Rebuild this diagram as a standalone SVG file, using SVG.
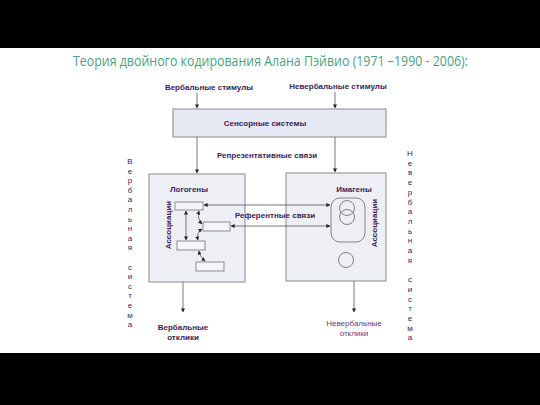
<svg xmlns="http://www.w3.org/2000/svg" width="540" height="405" viewBox="0 0 540 405">
<defs>
<marker id="ah" viewBox="0 0 10 10" refX="9" refY="5" markerWidth="4" markerHeight="4" orient="auto-start-reverse" markerUnits="userSpaceOnUse">
<path d="M0,0 L10,5 L0,10 z" fill="#222"/>
</marker>
<style>
.lbl{font-family:"Liberation Sans",Arial,sans-serif;font-size:8px;font-weight:bold;fill:#3b2456;text-anchor:middle}
.lt{font-family:"Liberation Sans",Arial,sans-serif;font-size:8px;fill:#6b3a7a;text-anchor:middle}
.vl{font-family:"Liberation Sans",Arial,sans-serif;font-size:8px;fill:#3b2456;text-anchor:middle}
.box{fill:#eeeef5;stroke:#8a8a8a;stroke-width:1}
.sb{fill:#f4f4f9;stroke:#777;stroke-width:0.8}
.ln{fill:none;stroke:#555;stroke-width:0.8}
.la{fill:none;stroke:#555;stroke-width:0.8;marker-end:url(#ah)}
.lb{fill:none;stroke:#555;stroke-width:0.8;marker-end:url(#ah);marker-start:url(#ah)}
</style>
</defs>
<rect x="0" y="0" width="540" height="405" fill="#ffffff"/>
<rect x="0" y="0" width="540" height="48" fill="#000"/>
<rect x="0" y="353" width="540" height="52" fill="#000"/>
<text x="73" y="66" font-family="'Open Sans','Liberation Sans',sans-serif" font-size="14" fill="#4c9f84" textLength="395" lengthAdjust="spacingAndGlyphs">Теория двойного кодирования Алана Пэйвио (1971 –1990 - 2006):</text>

<g id="stim-verbal"><text class="lbl" x="209" y="90">Вербальные стимулы</text></g>
<g id="stim-nonverbal"><text class="lbl" x="338" y="89">Невербальные стимулы</text></g>

<g id="sensory">
<rect x="173" y="109" width="213" height="28" fill="#e6e9f4" stroke="#8a8a8a"/>
<text class="lbl" x="265" y="126">Сенсорные системы</text>
</g>

<g id="repr-label"><text class="lbl" x="267" y="158">Репрезентативные связи</text></g>

<g id="verbal-system">
<rect class="box" x="149" y="174" width="96" height="108"/>
<text class="lbl" x="189" y="192">Логогены</text>
<text class="lbl" transform="translate(171,225) rotate(-90)">Ассоциации</text>
<rect class="sb" x="175" y="202" width="28" height="8"/>
<rect class="sb" x="203" y="222" width="27" height="9"/>
<rect class="sb" x="177" y="241" width="28" height="9"/>
<rect class="sb" x="196" y="262" width="28" height="9"/>
</g>

<g id="nonverbal-system">
<rect class="box" x="286" y="173" width="100" height="108"/>
<text class="lbl" x="354" y="192">Имагены</text>
<text class="lbl" transform="translate(377,223) rotate(-90)">Ассоциации</text>
<rect x="331" y="198" width="34" height="44" rx="9" fill="none" stroke="#666" stroke-width="0.8"/>
<circle cx="347" cy="208" r="7.5" fill="none" stroke="#666" stroke-width="0.8"/>
<circle cx="347" cy="217" r="7.5" fill="none" stroke="#666" stroke-width="0.8"/>
<circle cx="346" cy="260" r="7.5" fill="none" stroke="#666" stroke-width="0.8"/>
</g>

<g id="ref-label"><text class="lbl" x="275" y="218">Референтные связи</text></g>

<g id="resp-verbal">
<text class="lbl" x="183" y="330">Вербальные</text>
<text class="lbl" x="183" y="340">отклики</text>
</g>
<g id="resp-nonverbal">
<text class="lt" x="354" y="326">Невербальные</text>
<text class="lt" x="354" y="336">отклики</text>
</g>

<g id="verbal-label">
<text class="vl" x="130" y="164">В</text><text class="vl" x="130" y="173.6">е</text><text class="vl" x="130" y="183.2">р</text><text class="vl" x="130" y="192.8">б</text><text class="vl" x="130" y="202.4">а</text><text class="vl" x="130" y="212">л</text><text class="vl" x="130" y="221.6">ь</text><text class="vl" x="130" y="231.2">н</text><text class="vl" x="130" y="240.8">а</text><text class="vl" x="130" y="250.4">я</text>
<text class="vl" x="130" y="269.6">с</text><text class="vl" x="130" y="279.2">и</text><text class="vl" x="130" y="288.8">с</text><text class="vl" x="130" y="298.4">т</text><text class="vl" x="130" y="308">е</text><text class="vl" x="130" y="317.6">м</text><text class="vl" x="130" y="327.2">а</text>
</g>
<g id="nonverbal-label">
<text class="vl" x="410" y="156">Н</text><text class="vl" x="410" y="165.7">е</text><text class="vl" x="410" y="175.4">в</text><text class="vl" x="410" y="185.1">е</text><text class="vl" x="410" y="194.8">р</text><text class="vl" x="410" y="204.5">б</text><text class="vl" x="410" y="214.2">а</text><text class="vl" x="410" y="223.9">л</text><text class="vl" x="410" y="233.6">ь</text><text class="vl" x="410" y="243.3">н</text><text class="vl" x="410" y="253">а</text><text class="vl" x="410" y="262.7">я</text>
<text class="vl" x="410" y="282.1">с</text><text class="vl" x="410" y="291.8">и</text><text class="vl" x="410" y="301.5">с</text><text class="vl" x="410" y="311.2">т</text><text class="vl" x="410" y="320.9">е</text><text class="vl" x="410" y="330.6">м</text><text class="vl" x="410" y="340.3">а</text>
</g>

<g id="connectors">
<line class="la" x1="197" y1="93" x2="197" y2="108"/>
<line class="la" x1="335" y1="92" x2="335" y2="108"/>
<line class="la" x1="197" y1="137" x2="197" y2="173"/>
<line class="la" x1="335" y1="137" x2="335" y2="172"/>
<line class="la" x1="183" y1="282" x2="183" y2="312"/>
<line class="la" x1="354" y1="281" x2="354" y2="312"/>
<line class="lb" x1="204" y1="205" x2="330" y2="205"/>
<line class="lb" x1="231" y1="226" x2="330" y2="226"/>
<line class="lb" x1="186" y1="211" x2="186" y2="240"/>
<path class="lb" d="M199,211 Q197,219 202,224"/>
<path class="lb" d="M202,229 Q196,233 198,240"/>
<path class="lb" d="M199,251 Q200,257 205,261"/>
</g>
</svg>
